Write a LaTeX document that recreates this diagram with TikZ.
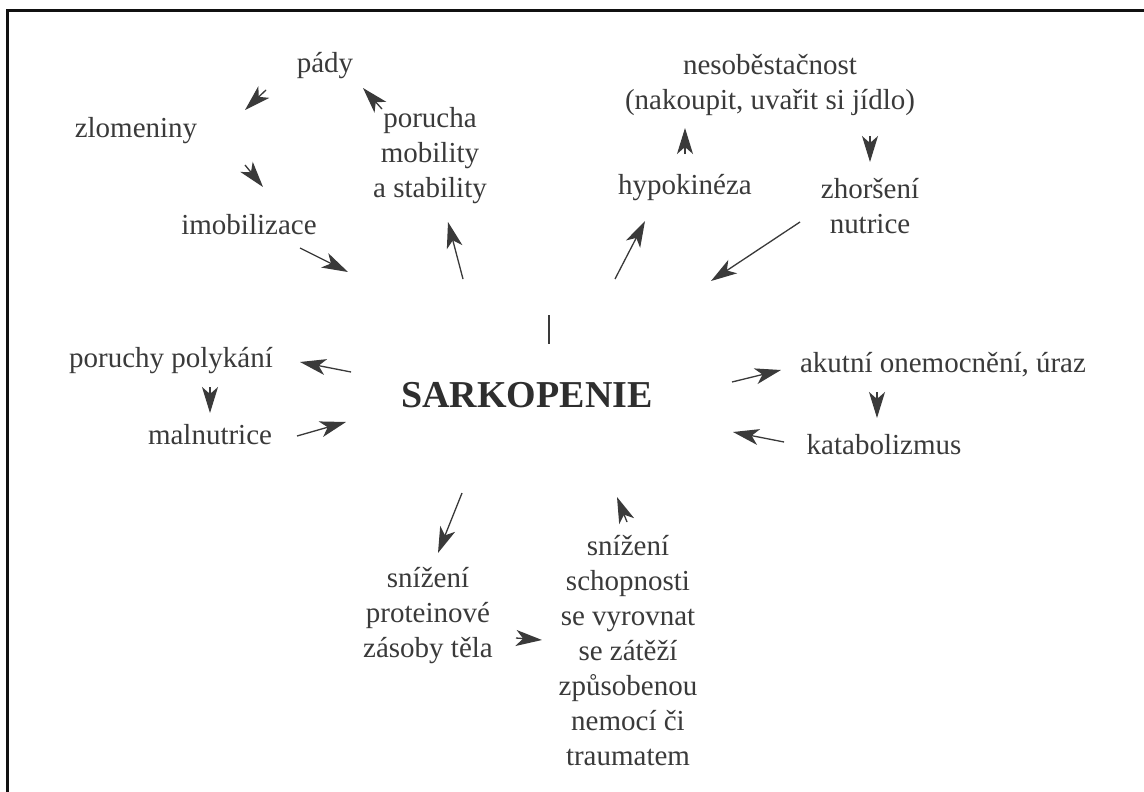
\documentclass[tikz,border=0pt]{standalone}
\usepackage{fontspec}
\setmainfont{Liberation Serif}
\usetikzlibrary{arrows.meta}
\definecolor{ink}{HTML}{3A3A3A}
\definecolor{frame}{HTML}{111111}
\begin{document}
\begin{tikzpicture}[x=1pt,y=-1pt,
  lbl/.style={text=ink, font=\fontsize{29}{35}\selectfont, align=center, inner sep=0pt},
  arr/.style={-{Stealth[length=26pt,width=16pt,inset=7pt]}, line width=1.3pt, draw=ink, fill=ink},
  title/.style={text=ink!80!black, font=\bfseries\fontsize{38}{44}\selectfont, inner sep=0pt}]
\useasboundingbox (0,0) rectangle (1144,792);
\fill[white] (0,0) rectangle (1144,792);
% frame
\draw[frame, line width=3pt] (7,792) -- (7,11) -- (1144,11);
% nodes
\node[lbl] (pady) at (325,66) {pády};
\node[lbl] (zlom) at (136,131) {zlomeniny};
\node[lbl] (imob) at (249,225) {imobilizace};
\node[lbl] (poru) at (430,156) {porucha\\mobility\\a stability};
\node[lbl] (neso) at (770,85) {nesoběstačnost\\(nakoupit, uvařit si jídlo)};
\node[lbl] (hypo) at (685,188) {hypokinéza};
\node[lbl] (zhor) at (870,206) {zhoršení\\nutrice};
\node[lbl] (poly) at (171,361) {poruchy polykání};
\node[lbl] (maln) at (210,435) {malnutrice};
\node[title] (sark) at (527,395) {SARKOPENIE};
\node[lbl] (akut) at (943,365) {akutní onemocnění, úraz};
\node[lbl] (kata) at (884,445) {katabolizmus};
\node[lbl] (prot) at (428,616) {snížení\\proteinové\\zásoby těla};
\node[lbl] (scho) at (628,651) {snížení\\schopnosti\\se vyrovnat\\se zátěží\\způsobenou\\nemocí či\\traumatem};
% connector end points
\coordinate (a1s) at (266,90);  \coordinate (a1e) at (245,110);
\coordinate (a2s) at (245,165); \coordinate (a2e) at (263,187);
\coordinate (a3s) at (382,109); \coordinate (a3e) at (363,88);
\coordinate (a4s) at (300,248); \coordinate (a4e) at (348,272);
\coordinate (a5s) at (463,279); \coordinate (a5e) at (448,222);
\coordinate (a6s) at (615,279); \coordinate (a6e) at (645,221);
\coordinate (a7s) at (685,154); \coordinate (a7e) at (685,128);
\coordinate (a8s) at (870,136); \coordinate (a8e) at (870,162);
\coordinate (a9s) at (800,222); \coordinate (a9e) at (711,281);
\coordinate (t1) at (549,315);  \coordinate (t2) at (549,344);
\coordinate (a11s) at (351,372); \coordinate (a11e) at (300,362);
\coordinate (a12s) at (210,387); \coordinate (a12e) at (210,413);
\coordinate (a13s) at (297,436); \coordinate (a13e) at (346,422);
\coordinate (a14s) at (732,382); \coordinate (a14e) at (781,370);
\coordinate (a15s) at (877,392); \coordinate (a15e) at (877,418);
\coordinate (a16s) at (784,442); \coordinate (a16e) at (733,432);
\coordinate (a17s) at (462,493); \coordinate (a17e) at (438,553);
\coordinate (a18s) at (516,638); \coordinate (a18e) at (542,640);
\coordinate (a19s) at (627,522); \coordinate (a19e) at (617,497);
% connectors
\draw[arr] (a1s) -- (a1e);
\draw[arr] (a2s) -- (a2e);
\draw[arr] (a3s) -- (a3e);
\draw[arr] (a4s) -- (a4e);
\draw[arr] (a5s) -- (a5e);
\draw[arr] (a6s) -- (a6e);
\draw[arr] (a7s) -- (a7e);
\draw[arr] (a8s) -- (a8e);
\draw[arr] (a9s) -- (a9e);
\draw[ink, line width=1.6pt] (t1) -- (t2);
\draw[arr] (a11s) -- (a11e);
\draw[arr] (a12s) -- (a12e);
\draw[arr] (a13s) -- (a13e);
\draw[arr] (a14s) -- (a14e);
\draw[arr] (a15s) -- (a15e);
\draw[arr] (a16s) -- (a16e);
\draw[arr] (a17s) -- (a17e);
\draw[arr] (a18s) -- (a18e);
\draw[arr] (a19s) -- (a19e);
\end{tikzpicture}
\end{document}
